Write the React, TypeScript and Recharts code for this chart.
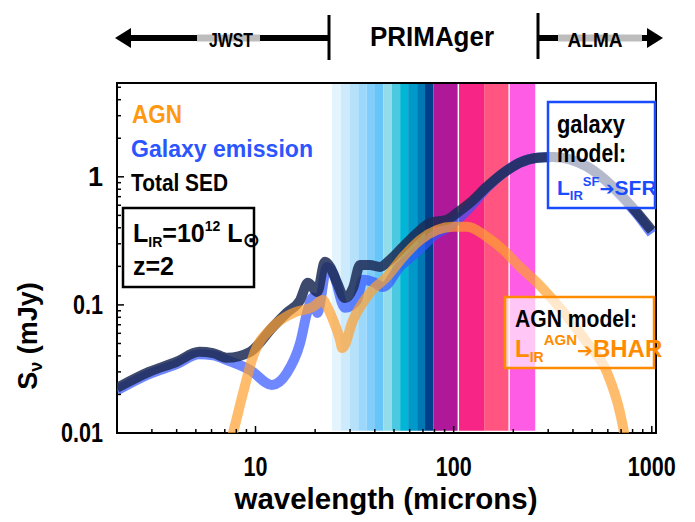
import { ComposedChart, Line, ReferenceArea, XAxis, YAxis } from 'recharts'

// SED curves (wavelength in microns, flux in mJy)
const agnWl = [6.8, 7.7, 8.65, 9.7, 12.2, 15.5, 19.5, 21.9, 23.0, 24.6, 26.7, 27.4, 31.1, 37.8, 46.1, 55.6, 67.8, 82.5, 99.4, 117, 147, 178, 216, 264, 318, 472, 596, 692, 716, 760]
const agnFlux = [0.005, 0.01, 0.0205, 0.0392, 0.0673, 0.0866, 0.0964, 0.109, 0.0964, 0.0764, 0.0534, 0.046, 0.0764, 0.124, 0.166, 0.237, 0.322, 0.385, 0.407, 0.407, 0.34, 0.269, 0.198, 0.149, 0.109, 0.0505, 0.0294, 0.0143, 0.0111, 0.006]

const galaxyWl = [2.0, 2.9, 4.0, 5.2, 6.1, 7.2, 9.4, 12.1, 14.4, 16.8, 18.2, 19.5, 20.5, 23.0, 24.6, 28.3, 32.5, 34.9, 39.2, 44, 53.7, 65.4, 80, 92, 104, 121, 147, 178, 216, 264, 318, 472, 638, 844, 1000]
const galaxyFlux = [0.0215, 0.0288, 0.0345, 0.0412, 0.0405, 0.037, 0.031, 0.0237, 0.0294, 0.0505, 0.0866, 0.115, 0.0866, 0.198, 0.178, 0.095, 0.109, 0.157, 0.151, 0.138, 0.2, 0.26, 0.35, 0.40, 0.46, 0.58, 0.82, 1.07, 1.29, 1.41, 1.43, 1.20, 0.82, 0.51, 0.36]

const totalWl = [2.0, 2.9, 4.0, 5.2, 6.1, 7.2, 9.4, 12.2, 14.4, 16.8, 18.4, 20.5, 22.4, 23.8, 25.8, 28.3, 31.1, 33.7, 37.8, 42.5, 47.8, 55.6, 65.4, 76, 92.7, 104, 121, 147, 178, 216, 264, 318, 472, 638, 844, 1000]
const totalFlux = [0.0225, 0.030, 0.036, 0.043, 0.042, 0.0386, 0.043, 0.067, 0.087, 0.109, 0.149, 0.126, 0.217, 0.198, 0.149, 0.113, 0.136, 0.205, 0.205, 0.198, 0.225, 0.284, 0.365, 0.437, 0.462, 0.523, 0.627, 0.836, 1.07, 1.29, 1.41, 1.43, 1.20, 0.836, 0.523, 0.38]

// PRIMAger channels
const bandStart = [24.3, 26.9, 29.8, 33.0, 36.3, 40.1, 44.2, 48.7, 53.7, 58.9, 65.4, 71.7, 79.0, 106.5, 142.5, 192]
const bandEnd = [26.9, 29.8, 33.0, 36.3, 40.1, 44.2, 48.7, 53.7, 58.9, 65.4, 71.7, 79.0, 104.7, 142.5, 189, 258]
const bandColor = ['#E3F4FD', '#CDEBFC', '#B5E1FB', '#9CD8FB', '#82CEFB', '#68C5F8', '#93DDEB', '#4BC9E1', '#00B5D5', '#0099C9', '#0078B3', '#023F8A', '#B0189A', '#F72585', '#FF5580', '#FF5CE6']

const xTicks = [2, 3, 4, 5, 6, 7, 8, 9, 10, 20, 30, 40, 50, 60, 70, 80, 90, 100, 200, 300, 400, 500, 600, 700, 800, 900, 1000]
const xLabelTicks = [10, 100, 1000]
const yTicks = [0.01, 0.02, 0.03, 0.04, 0.05, 0.06, 0.07, 0.08, 0.09, 0.1, 0.2, 0.3, 0.4, 0.5, 0.6, 0.7, 0.8, 0.9, 1, 2, 3, 4, 5]
const yLabelTicks = [0.01, 0.1, 1]

const X_DOMAIN = [2, 1050]
const Y_DOMAIN = [0.01, 5.4]

const FONT = '"Liberation Sans", Arial, sans-serif'

const toRows = (xs: number[], ys: number[]) => xs.map((x, i) => ({ x, y: ys[i] }))

const agnRows = toRows(agnWl, agnFlux)
const galaxyRows = toRows(galaxyWl, galaxyFlux)
const totalRows = toRows(totalWl, totalFlux)

// condensed look: squeeze digits a bit
const numWidth = (s: string) => s.split('').reduce((w, c) => w + (c === '.' ? 6 : 12), 0)

function XTick(props: any) {
  const { x, y, payload } = props
  const v = payload.value
  const major = xLabelTicks.includes(v)
  const label = String(v)
  return (
    <g>
      <line x1={x} x2={x} y1={y} y2={y - (major ? 7 : 4)} stroke="#000" strokeWidth={1.5} />
      {major && (
        <text x={x} y={y + 43} textAnchor="middle" fontFamily={FONT} fontWeight="bold" fontSize={27}
          textLength={numWidth(label)} lengthAdjust="spacingAndGlyphs" fill="#000">{label}</text>
      )}
    </g>
  )
}

function YTick(props: any) {
  const { x, y, payload } = props
  const v = payload.value
  const major = yLabelTicks.includes(v)
  const label = String(v)
  return (
    <g>
      <line x1={x} x2={x + (major ? 7 : 4)} y1={y} y2={y} stroke="#000" strokeWidth={1.5} />
      {major && (
        <text x={x - 14} y={y + 9} textAnchor="end" fontFamily={FONT} fontWeight="bold" fontSize={27}
          textLength={label.length > 1 ? numWidth(label) : undefined} lengthAdjust="spacingAndGlyphs" fill="#000">{label}</text>
      )}
    </g>
  )
}

function Header() {
  return (
    <g fontFamily={FONT} fontWeight="bold">
      {/* JWST arrow */}
      <line x1={125} x2={328} y1={38} y2={38} stroke="#000" strokeWidth={6} />
      <line x1={197} x2={260} y1={38} y2={38} stroke="#BDBDBD" strokeWidth={7} />
      <polygon points="115,38 131,28 131,48" fill="#000" />
      <text x={231} y={47} textAnchor="middle" fontSize={20} textLength={44} lengthAdjust="spacingAndGlyphs">JWST</text>
      <line x1={329} x2={329} y1={15} y2={60} stroke="#000" strokeWidth={3} />
      <text x={432} y={46} textAnchor="middle" fontSize={27} textLength={124} lengthAdjust="spacingAndGlyphs">PRIMAger</text>
      {/* ALMA arrow */}
      <line x1={538} x2={538} y1={13} y2={59} stroke="#000" strokeWidth={3} />
      <line x1={539} x2={650} y1={38} y2={38} stroke="#000" strokeWidth={6} />
      <line x1={558} x2={642} y1={38} y2={38} stroke="#BDBDBD" strokeWidth={7} />
      <polygon points="663,38 647,28 647,48" fill="#000" />
      <text x={595} y={47} textAnchor="middle" fontSize={20} textLength={55} lengthAdjust="spacingAndGlyphs">ALMA</text>
    </g>
  )
}

function Annotations() {
  return (
    <g fontFamily={FONT} fontWeight="bold">
      {/* legend */}
      <text x={132} y={123} fontSize={25} fill="#FF9912" textLength={50} lengthAdjust="spacingAndGlyphs">AGN</text>
      <text x={131} y={157} fontSize={23} fill="#2B55FF" textLength={182} lengthAdjust="spacingAndGlyphs">Galaxy emission</text>
      <text x={131} y={191} fontSize={24} fill="#000" textLength={97} lengthAdjust="spacingAndGlyphs">Total SED</text>

      {/* L_IR box */}
      <rect x={123} y={208} width={131} height={79} fill="#fff" stroke="#000" strokeWidth={2.5} />
      <text x={133} y={242} fontSize={25} fill="#000">
        L<tspan fontSize={14} dy={5}>IR</tspan>
        <tspan dy={-5}>=10</tspan>
        <tspan fontSize={14} dy={-11}>12</tspan>
        <tspan dy={11}> L</tspan>
        <tspan fontSize={21} dy={5} fontFamily='"DejaVu Sans", sans-serif'>⊙</tspan>
      </text>
      <text x={133} y={275} fontSize={25} fill="#000">z=2</text>

      {/* galaxy model box */}
      <rect x={548} y={102} width={107} height={106} fill="#fff" fillOpacity={0.65} stroke="#1A4CFF" strokeWidth={2.5} />
      <text x={557} y={133} fontSize={25} fill="#000" textLength={68} lengthAdjust="spacingAndGlyphs">galaxy</text>
      <text x={557} y={162} fontSize={25} fill="#000" textLength={69} lengthAdjust="spacingAndGlyphs">model:</text>
      <text x={557} y={195} fontSize={21} fill="#1A4CFF">
        L<tspan fontSize={13} dy={5}>IR</tspan>
        <tspan fontSize={13} dy={-14}>SF</tspan>
        <tspan dy={9} fontFamily='"DejaVu Sans", sans-serif' fontSize={18}>➔</tspan>
        <tspan>SFR</tspan>
      </text>

      {/* AGN model box */}
      <rect x={505} y={297} width={149} height={71} fill="#fff" fillOpacity={0.65} stroke="#FF8C00" strokeWidth={2.5} />
      <text x={515} y={327} fontSize={24} fill="#000" textLength={122} lengthAdjust="spacingAndGlyphs">AGN model:</text>
      <text x={515} y={357} fontSize={24} fill="#FF8C00">
        L<tspan fontSize={14} dy={5}>IR</tspan>
        <tspan fontSize={15} dy={-17}>AGN</tspan>
        <tspan dy={12} fontFamily='"DejaVu Sans", sans-serif' fontSize={19}>➔</tspan>
        <tspan>BHAR</tspan>
      </text>

      {/* axis titles */}
      <text x={386} y={509} textAnchor="middle" fontSize={30} fill="#000" textLength={303} lengthAdjust="spacingAndGlyphs">wavelength (microns)</text>
      <text x={37} y={336} textAnchor="middle" fontSize={27} fill="#000" transform="rotate(-90 37 336)">
        S<tspan fontSize={18} dy={5}>ν</tspan><tspan dy={-5}> (mJy)</tspan>
      </text>
    </g>
  )
}

export default function App() {
  return (
    <div style={{ position: 'absolute', left: 0, top: 0, width: 695, height: 522, background: '#fff' }}>
      <ComposedChart width={695} height={522} margin={{ top: 83, right: 39, bottom: 0, left: 0 }}>
        <XAxis
          dataKey="x"
          type="number"
          scale="log"
          domain={X_DOMAIN}
          allowDataOverflow
          ticks={xTicks}
          interval={0}
          tick={<XTick />}
          tickSize={0}
          tickMargin={0}
          tickLine={false}
          axisLine={false}
          height={89}
        />
        <YAxis
          type="number"
          scale="log"
          domain={Y_DOMAIN}
          allowDataOverflow
          ticks={yTicks}
          interval={0}
          tick={<YTick />}
          tickSize={0}
          tickMargin={0}
          tickLine={false}
          axisLine={false}
          width={117}
        />

        {bandStart.map((b, i) => (
          <ReferenceArea
            key={`band-${i}`}
            x1={b}
            x2={bandEnd[i]}
            y1={0.0104}
            y2={Y_DOMAIN[1]}
            fill={bandColor[i]}
            fillOpacity={1}
            stroke="none"
          />
        ))}

        <Line data={galaxyRows} dataKey="y" type="monotone" stroke="#3355FF" strokeOpacity={0.7}
          strokeWidth={10} strokeLinejoin="round" dot={false} activeDot={false} isAnimationActive={false} />
        <Line data={totalRows} dataKey="y" type="monotone" stroke="#1B2A55" strokeOpacity={0.85}
          strokeWidth={10} strokeLinejoin="round" dot={false} activeDot={false} isAnimationActive={false} />
        <Line data={agnRows} dataKey="y" type="monotone" stroke="#FF9F2E" strokeOpacity={0.7}
          strokeWidth={10} strokeLinejoin="round" dot={false} activeDot={false} isAnimationActive={false} />

        {/* plot frame */}
        <ReferenceArea x1={X_DOMAIN[0]} x2={X_DOMAIN[1]} y1={Y_DOMAIN[0]} y2={Y_DOMAIN[1]}
          fill="none" stroke="#000" strokeWidth={2} />
      </ComposedChart>
      <svg width={695} height={522} style={{ position: 'absolute', left: 0, top: 0, pointerEvents: 'none' }}>
        <Header />
        <Annotations />
      </svg>
    </div>
  )
}
